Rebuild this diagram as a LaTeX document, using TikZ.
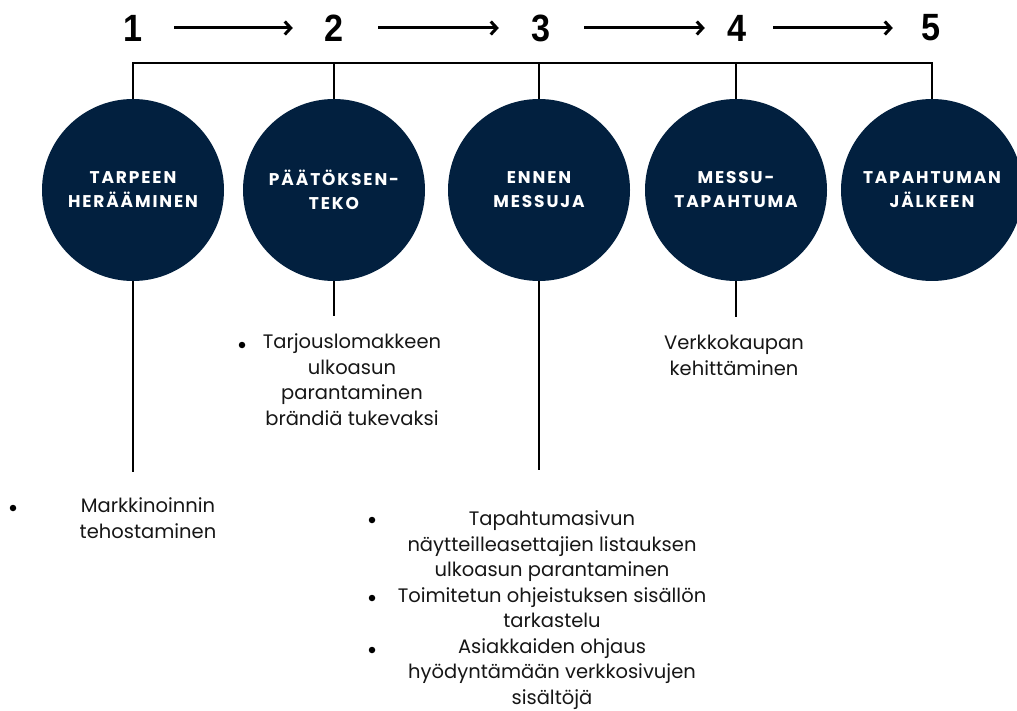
\documentclass[tikz,border=0pt]{standalone}
\usepackage{fontspec}
\setmainfont{Poppins}
\newfontfamily\numfont{Liberation Sans}[FakeStretch=0.9]
\newfontfamily\circfont{Poppins}[LetterSpace=11]
\usetikzlibrary{arrows.meta}
\definecolor{navy}{HTML}{02203F}
\definecolor{ink}{HTML}{161616}
\begin{document}
\begin{tikzpicture}[x=1pt,y=-1pt,
  num/.style={font=\numfont\bfseries\fontsize{38}{38}\selectfont, inner sep=0pt, minimum width=22pt},
  stage/.style={circle, fill=navy, minimum size=182pt, inner sep=0pt, text=white, align=center, font=\circfont\bfseries\fontsize{17}{24}\selectfont},
  flow/.style={line width=3pt, -{Straight Barb[length=6pt,width=13pt]}},
  link/.style={line width=1.6pt, draw=black},
  barline/.style={line width=2.6pt, draw=black},
  body/.style={font=\fontsize{19.5}{25.5}\selectfont, text=ink, align=center, inner sep=0pt, anchor=base},
  dot/.style={circle, fill=black, inner sep=0pt, minimum size=6.5pt}
]
\useasboundingbox (0,0) rectangle (1017,711);

% numbers
\node[num] (n1) at (133,28) {1};
\node[num] (n2) at (334,28) {2};
\node[num] (n3) at (541,28) {3};
\node[num] (n4) at (737,28) {4};
\node[num] (n5) at (931,28) {5};

\draw[flow, shorten <=30pt, shorten >=30pt] (n1.east) -- (n2.west);
\draw[flow, shorten <=33pt, shorten >=31pt] (n2.east) -- (n3.west);
\draw[flow, shorten <=32pt, shorten >=21pt] (n3.east) -- (n4.west);
\draw[flow, shorten <=25pt, shorten >=27pt] (n4.east) -- (n5.west);

% stages
\node[stage] (c1) at (133,190) {TARPEEN\\HERÄÄMINEN};
\node[stage] (c2) at (334,190) {PÄÄTÖKSEN-\\TEKO};
\node[stage] (c3) at (539,190) {ENNEN\\MESSUJA};
\node[stage] (c4) at (736,190) {MESSU-\\TAPAHTUMA};
\node[stage] (c5) at (932,190) {TAPAHTUMAN\\JÄLKEEN};

% top bar
\coordinate (barL) at (133,63);
\coordinate (barR) at (932,63);
\draw[barline] ([xshift=-0.8pt]barL) -- ([xshift=0.8pt]barR);
\foreach \c in {c1,c2,c3,c4,c5}
  \draw[link] (\c.north |- barL) -- (\c.north);

% stems
\coordinate (s1) at (133,472);
\coordinate (s2) at (334,316);
\coordinate (s3) at (539,470);
\coordinate (s4) at (736,317);
\draw[link] (c1.south) -- (s1);
\draw[link] (c2.south) -- (s2);
\draw[link] (c3.south) -- (s3);
\draw[link] (c4.south) -- (s4);

% texts (anchor = baseline of last line)
\node[dot] (b1) at (13,508) {};
\node[body] (t1) at (148,538) {Markkinoinnin\\tehostaminen};

\node[dot] (b2) at (242,345) {};
\node[body] (t2) at (352,425) {Tarjouslomakkeen\\ulkoasun\\parantaminen\\brändiä tukevaksi};

\node[body] (t4) at (734,375) {Verkkokaupan\\kehittäminen};

\node[dot] (b3a) at (372,520) {};
\node[dot] (b3b) at (372,598) {};
\node[dot] (b3c) at (372,650) {};
\node[body] (t3) at (552,704) {Tapahtumasivun\\näytteilleasettajien listauksen\\ulkoasun parantaminen\\Toimitetun ohjeistuksen sisällön\\tarkastelu\\Asiakkaiden ohjaus\\hyödyntämään verkkosivujen\\sisältöjä};
\end{tikzpicture}
\end{document}
